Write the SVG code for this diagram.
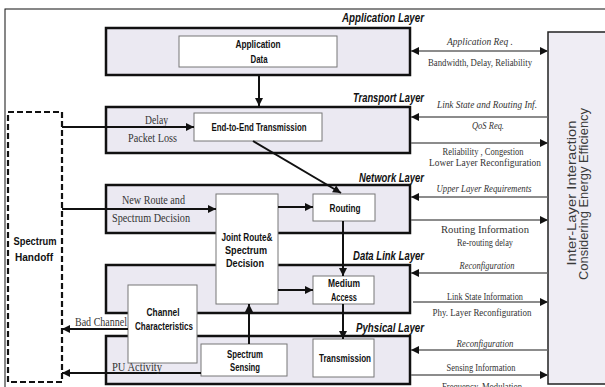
<svg xmlns="http://www.w3.org/2000/svg" width="605" height="387" viewBox="0 0 605 387">
<style>
.layer{fill:#ebe9f2;stroke:#111;stroke-width:2.5}
.box{fill:#fff;stroke:#777;stroke-width:1}
.title{font-family:"Liberation Sans",Arial,sans-serif;font-weight:bold;font-style:italic;font-size:13px;fill:#111}
.bt{font-family:"Liberation Sans",Arial,sans-serif;font-weight:bold;font-size:11px;fill:#111;text-anchor:middle}
.st{font-family:"Liberation Serif","Times New Roman",serif;font-size:11.5px;fill:#333}
.rt{font-family:"Liberation Serif","Times New Roman",serif;font-size:10.5px;fill:#333;text-anchor:middle}
.it{font-style:italic}
.c{stroke:#111;stroke-width:2;fill:none}
.r{stroke:#666;stroke-width:1.5;fill:none}
</style>
<defs>
<marker id="ah" viewBox="0 0 10 10" refX="10" refY="5" markerWidth="9" markerHeight="8" markerUnits="userSpaceOnUse" orient="auto-start-reverse">
<path d="M0,0 L10,5 L0,10 Z" fill="#111"/>
</marker>
</defs>
<rect x="0" y="0" width="605" height="387" fill="#fff"/>
<rect x="5" y="9" width="620" height="400" fill="none" stroke="#111" stroke-width="1"/>

<g id="application-layer">
<rect class="layer" x="106" y="28" width="304" height="47"/>
<text class="title" x="424" y="22" text-anchor="end" textLength="82" lengthAdjust="spacingAndGlyphs">Application Layer</text>
</g>
<g id="application-data">
<rect class="box" x="179" y="36" width="158" height="31"/>
<text class="bt" x="258" y="48" textLength="45" lengthAdjust="spacingAndGlyphs">Application</text>
<text class="bt" x="259" y="63" textLength="17" lengthAdjust="spacingAndGlyphs">Data</text>
</g>

<g id="transport-layer">
<rect class="layer" x="106" y="107" width="304" height="46"/>
<text class="title" x="424" y="102" text-anchor="end" textLength="71" lengthAdjust="spacingAndGlyphs">Transport Layer</text>
<text class="st" x="145" y="124" textLength="23" lengthAdjust="spacingAndGlyphs">Delay</text>
<text class="st" x="128" y="142" textLength="49" lengthAdjust="spacingAndGlyphs">Packet Loss</text>
</g>
<g id="end-to-end">
<rect class="box" x="194" y="113" width="128" height="28"/>
<text class="bt" x="259" y="131" textLength="95" lengthAdjust="spacingAndGlyphs">End-to-End Transmission</text>
</g>

<g id="network-layer">
<rect class="layer" x="106" y="185" width="304" height="48"/>
<text class="title" x="424" y="182" text-anchor="end" textLength="65" lengthAdjust="spacingAndGlyphs">Network Layer</text>
<text class="st" x="122" y="204" textLength="63" lengthAdjust="spacingAndGlyphs">New Route and</text>
<text class="st" x="112" y="222" textLength="78" lengthAdjust="spacingAndGlyphs">Spectrum Decision</text>
</g>
<g id="routing">
<rect class="box" x="313" y="194" width="62" height="27"/>
<text class="bt" x="345" y="212" textLength="31" lengthAdjust="spacingAndGlyphs">Routing</text>
</g>

<g id="data-link-layer">
<rect class="layer" x="106" y="265" width="304" height="48"/>
<text class="title" x="424" y="260" text-anchor="end" textLength="71" lengthAdjust="spacingAndGlyphs">Data Link Layer</text>
</g>
<g id="medium-access">
<rect class="box" x="313" y="276" width="61" height="28"/>
<text class="bt" x="344" y="287" textLength="32" lengthAdjust="spacingAndGlyphs">Medium</text>
<text class="bt" x="344" y="301" textLength="26" lengthAdjust="spacingAndGlyphs">Access</text>
</g>

<g id="physical-layer">
<rect class="layer" x="106" y="336" width="304" height="48"/>
<text class="title" x="424" y="332" text-anchor="end" textLength="68" lengthAdjust="spacingAndGlyphs">Pyhsical Layer</text>
</g>
<g id="transmission">
<rect class="box" x="313" y="339" width="61" height="38"/>
<text class="bt" x="345" y="362" textLength="52" lengthAdjust="spacingAndGlyphs">Transmission</text>
</g>

<g id="joint-route">
<rect class="box" x="216" y="194" width="62" height="110"/>
<text class="bt" x="247" y="241" textLength="51" lengthAdjust="spacingAndGlyphs">Joint Route&amp;</text>
<text class="bt" x="246" y="254" textLength="42" lengthAdjust="spacingAndGlyphs">Spectrum</text>
<text class="bt" x="245" y="267" textLength="38" lengthAdjust="spacingAndGlyphs">Decision</text>
</g>
<g id="channel-characteristics">
<rect class="box" x="128" y="285" width="69" height="78"/>
<text class="bt" x="163" y="316" textLength="33" lengthAdjust="spacingAndGlyphs">Channel</text>
<text class="bt" x="164" y="330" textLength="58" lengthAdjust="spacingAndGlyphs">Characteristics</text>
</g>
<g id="spectrum-sensing">
<rect class="box" x="201" y="344" width="86" height="32"/>
<text class="bt" x="245" y="358" textLength="36" lengthAdjust="spacingAndGlyphs">Spectrum</text>
<text class="bt" x="245" y="371" textLength="30" lengthAdjust="spacingAndGlyphs">Sensing</text>
</g>

<g id="spectrum-handoff">
<rect x="8" y="112" width="54" height="270" fill="#fff" stroke="#111" stroke-width="2.2" stroke-dasharray="6 3"/>
<text class="bt" x="35" y="245" textLength="43" lengthAdjust="spacingAndGlyphs">Spectrum</text>
<text class="bt" x="34" y="261" textLength="38" lengthAdjust="spacingAndGlyphs">Handoff</text>
</g>

<g id="inter-layer">
<rect x="548" y="32" width="60" height="352" fill="#efedf4" stroke="#222" stroke-width="1.5"/>
<text font-family="'Liberation Sans',Arial,sans-serif" font-size="12" fill="#3a3a3a" text-anchor="middle" transform="translate(576,193) rotate(-90)" textLength="145" lengthAdjust="spacingAndGlyphs">Inter-Layer Interaction</text>
<text font-family="'Liberation Sans',Arial,sans-serif" font-size="12" fill="#3a3a3a" text-anchor="middle" transform="translate(588,194) rotate(-90)" textLength="172" lengthAdjust="spacingAndGlyphs">Considering Energy Efficiency</text>
</g>

<g id="connectors">
<line class="c" x1="259" y1="75" x2="259" y2="106" marker-end="url(#ah)"/>
<line class="c" x1="62" y1="127" x2="194" y2="127" marker-end="url(#ah)"/>
<line class="c" x1="253" y1="141" x2="341" y2="193" marker-end="url(#ah)"/>
<line class="c" x1="62" y1="209" x2="216" y2="209" marker-end="url(#ah)"/>
<line class="c" x1="278" y1="207" x2="313" y2="207" marker-end="url(#ah)"/>
<line class="c" x1="343" y1="221" x2="343" y2="276" marker-end="url(#ah)"/>
<line class="c" x1="278" y1="290" x2="313" y2="290" marker-end="url(#ah)"/>
<line class="c" x1="343" y1="304" x2="343" y2="339" marker-end="url(#ah)"/>
<line class="c" x1="249" y1="344" x2="249" y2="304" marker-end="url(#ah)"/>
<line class="c" x1="128" y1="329" x2="62" y2="329" marker-end="url(#ah)"/>
<line class="c" x1="201" y1="373" x2="62" y2="373" marker-end="url(#ah)"/>
<text class="st" x="75" y="326" textLength="52" lengthAdjust="spacingAndGlyphs">Bad Channel</text>
<text class="st" x="112" y="371" textLength="50" lengthAdjust="spacingAndGlyphs">PU Activity</text>

<line class="r" x1="411" y1="51" x2="548" y2="51" marker-start="url(#ah)" marker-end="url(#ah)"/>
<line class="r" x1="548" y1="117" x2="411" y2="117" marker-end="url(#ah)"/>
<line class="r" x1="411" y1="143" x2="548" y2="143" marker-end="url(#ah)"/>
<line class="r" x1="548" y1="197" x2="411" y2="197" marker-end="url(#ah)"/>
<line class="r" x1="411" y1="220" x2="548" y2="220" marker-end="url(#ah)"/>
<line class="r" x1="548" y1="273" x2="411" y2="273" marker-end="url(#ah)"/>
<line class="r" x1="413" y1="302" x2="548" y2="302" marker-end="url(#ah)"/>
<line class="r" x1="548" y1="350" x2="411" y2="350" marker-end="url(#ah)"/>
<line class="r" x1="411" y1="375" x2="548" y2="375" marker-end="url(#ah)"/>

<text class="rt it" x="480" y="45" textLength="66" lengthAdjust="spacingAndGlyphs">Application Req .</text>
<text class="rt" x="480" y="66" textLength="104" lengthAdjust="spacingAndGlyphs">Bandwidth, Delay, Reliability</text>
<text class="rt it" x="487" y="108" textLength="100" lengthAdjust="spacingAndGlyphs">Link State and  Routing Inf.</text>
<text class="rt it" x="488" y="129" textLength="32" lengthAdjust="spacingAndGlyphs">QoS Req.</text>
<text class="rt" x="483" y="155" textLength="81" lengthAdjust="spacingAndGlyphs">Reliability , Congestion</text>
<text class="rt" x="485" y="166" textLength="112" lengthAdjust="spacingAndGlyphs">Lower Layer Reconfiguration</text>
<text class="rt it" x="484" y="192" textLength="95" lengthAdjust="spacingAndGlyphs">Upper Layer Requirements</text>
<text class="rt" x="485" y="233" textLength="88" lengthAdjust="spacingAndGlyphs">Routing Information</text>
<text class="rt" x="485" y="246" textLength="56" lengthAdjust="spacingAndGlyphs">Re-routing delay</text>
<text class="rt it" x="487" y="269" textLength="55" lengthAdjust="spacingAndGlyphs">Reconfiguration</text>
<text class="rt" x="485" y="300" textLength="76" lengthAdjust="spacingAndGlyphs">Link State Information</text>
<text class="rt" x="482" y="316" textLength="99" lengthAdjust="spacingAndGlyphs">Phy. Layer Reconfiguration</text>
<text class="rt it" x="485" y="347" textLength="57" lengthAdjust="spacingAndGlyphs">Reconfiguration</text>
<text class="rt" x="481" y="371" textLength="69" lengthAdjust="spacingAndGlyphs">Sensing Information</text>
<text class="rt" x="482" y="390" textLength="80" lengthAdjust="spacingAndGlyphs">Frequency, Modulation</text>
</g>
</svg>
